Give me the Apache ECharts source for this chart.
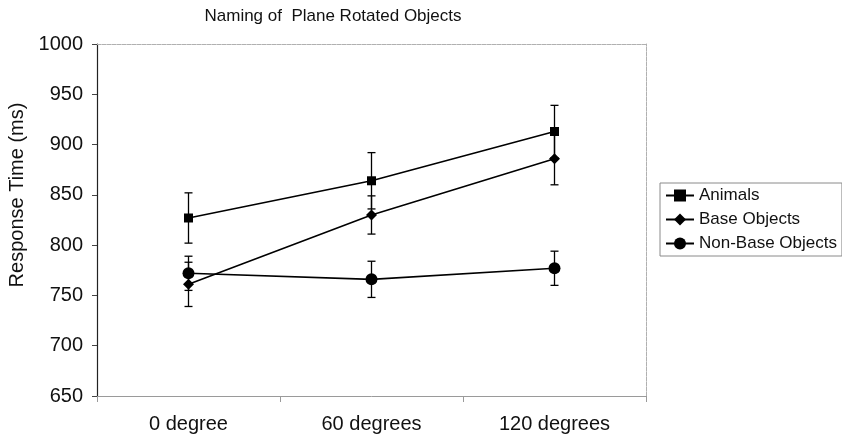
<!DOCTYPE html>
<html>
<head>
<meta charset="utf-8">
<script src="https://cdn.jsdelivr.net/npm/echarts@6/dist/echarts.min.js"></script>
<style>html,body{margin:0;padding:0;background:#fff;}#c{width:842px;height:441px;}</style>
</head>
<body>
<div id="c"></div>
<script>
const categories = ['0 degree', '60 degrees', '120 degrees'];
const seriesNames = ['Animals', 'Base Objects', 'Non-Base Objects'];
const animals = [827, 864, 913];
const animalsErr = [25, 28, 26];
const baseObjects = [761, 830, 886];
const baseObjectsErr = [22, 19, 26];
const nonBaseObjects = [772, 766, 777];
const nonBaseObjectsErr = [17, 18, 17];
const yTicks = {min: 650, max: 1000, interval: 50};
const titleText = 'Naming of  Plane Rotated Objects';
const yTitle = 'Response Time (ms)';

const FONT = 'Liberation Sans, Arial, sans-serif';
const chart = echarts.init(document.getElementById('c'), null, {renderer: 'canvas'});

function errData(vals, errs) {
  return vals.map((v, i) => [i, v - errs[i], v + errs[i]]);
}
function errSeries(name, vals, errs) {
  return {
    type: 'custom',
    name: name + ' err',
    z: 1,
    silent: true,
    data: errData(vals, errs),
    renderItem: function (params, api) {
      const lo = api.coord([api.value(0), api.value(1)]);
      const hi = api.coord([api.value(0), api.value(2)]);
      const w = 4;
      const st = {stroke: '#000', lineWidth: 1.3};
      return {
        type: 'group',
        children: [
          {type: 'line', shape: {x1: lo[0], y1: lo[1], x2: hi[0], y2: hi[1]}, style: st},
          {type: 'line', shape: {x1: lo[0] - w, y1: lo[1], x2: lo[0] + w, y2: lo[1]}, style: st},
          {type: 'line', shape: {x1: hi[0] - w, y1: hi[1], x2: hi[0] + w, y2: hi[1]}, style: st}
        ]
      };
    }
  };
}
function lineSeries(name, vals, symbol, size) {
  return {
    type: 'line',
    name: name,
    data: vals,
    symbol: symbol,
    symbolSize: size,
    z: 3,
    lineStyle: {color: '#000', width: 1.6},
    itemStyle: {color: '#000'},
    showAllSymbol: true
  };
}

const option = {
  animation: false,
  backgroundColor: '#fff',
  grid: {left: 97, right: 196, top: 44, bottom: 45, show: false},
  legend: {
    orient: 'vertical',
    left: 660,
    top: 183,
    data: seriesNames,
    itemWidth: 28,
    itemHeight: 15,
    itemGap: 7,
    padding: [4, 5, 4, 5],
    borderColor: '#8a8a8a',
    borderWidth: 1,
    borderRadius: 0,
    textStyle: {fontFamily: FONT, fontSize: 17, color: '#111', lineHeight: 17}
  },
  xAxis: [{
    type: 'category',
    data: categories,
    boundaryGap: true,
    axisLine: {lineStyle: {color: '#9a9a9a', width: 1}},
    axisTick: {show: true, length: 6, lineStyle: {color: '#9a9a9a'}},
    axisLabel: {fontFamily: FONT, fontSize: 20, color: '#111', margin: 18}
  }, {
    type: 'category',
    data: categories,
    position: 'top',
    boundaryGap: true,
    axisLine: {lineStyle: {color: '#b0b0b0', width: 1, type: [4, 1]}},
    axisTick: {show: false},
    axisLabel: {show: false}
  }],
  yAxis: [{
    type: 'value',
    min: yTicks.min,
    max: yTicks.max,
    interval: yTicks.interval,
    axisLine: {show: true, lineStyle: {color: '#222', width: 1.2}},
    axisTick: {show: true, length: 5, lineStyle: {color: '#444'}},
    splitLine: {show: false},
    axisLabel: {fontFamily: FONT, fontSize: 20, color: '#111', margin: 14, formatter: function (v) { return String(v); }}
  }, {
    type: 'value',
    position: 'right',
    min: yTicks.min,
    max: yTicks.max,
    interval: yTicks.interval,
    axisLine: {show: true, lineStyle: {color: '#b0b0b0', width: 1, type: [4, 1]}},
    axisTick: {show: false},
    splitLine: {show: false},
    axisLabel: {show: false}
  }],
  graphic: [{
    type: 'text',
    x: 333, y: 16,
    style: {text: titleText, fontFamily: FONT, fontSize: 17, fill: '#111', textAlign: 'center', textVerticalAlign: 'middle'}
  }, {
    type: 'text',
    x: 17, y: 195,
    rotation: Math.PI / 2,
    style: {text: yTitle, fontFamily: FONT, fontSize: 20, fill: '#111', textAlign: 'center', textVerticalAlign: 'middle'}
  }],
  series: [
    errSeries(seriesNames[0], animals, animalsErr),
    errSeries(seriesNames[1], baseObjects, baseObjectsErr),
    errSeries(seriesNames[2], nonBaseObjects, nonBaseObjectsErr),
    lineSeries(seriesNames[0], animals, 'rect', 9),
    lineSeries(seriesNames[1], baseObjects, 'diamond', 11),
    lineSeries(seriesNames[2], nonBaseObjects, 'circle', 12)
  ]
};
chart.setOption(option);
</script>
</body>
</html>
